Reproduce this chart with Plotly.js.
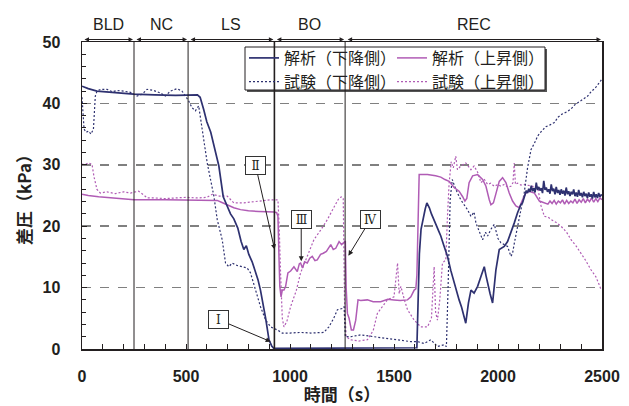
<!DOCTYPE html>
<html><head><meta charset="utf-8">
<script src="https://cdn.plot.ly/plotly-3.0.1.min.js"></script>
<style>html,body{margin:0;padding:0;background:#fff}</style>
</head><body><div id="chart" style="width:629px;height:406px"></div>
<script>
// ---- data ----
const phaseNames = ['BLD', 'NC', 'LS', 'BO', 'REC'];
const phaseBounds = [0, 250, 510, 925, 1265, 2500];

// 解析（下降側）
const tAnaDown = [0,30,72,150,248,350,450,555,568,585,600,619,640,658,679,700,714,730,749,765,778,790,802,818,834,846,858,870,883,899,912,922,940,1000,1100,1200,1300,1400,1500,1600,1610,1616,1622,1630,1640,1650,1658,1670,1680,1693,1705,1715,1725,1740,1757,1773,1789,1800,1813,1825,1835,1845,1858,1870,1885,1902,1918,1934,1942,1950,1962,1974,1982,1990,2006,2020,2030,2046,2062,2078,2094,2110,2118,
  2130,2136,2142,2148,2154,2160,2166,2172,2178,2184,2190,2196,2202,2208,2214,2220,2226,2232,2238,2244,2250,2256,2262,2268,2274,2280,2286,2292,2298,2304,2310,2316,2322,2328,2334,2340,2346,2352,2358,2364,2370,2376,2382,2388,2394,2400,2406,2412,2418,2424,2430,2436,2442,2448,2454,2460,2466,2472,2478,2484,2490,2496,2500];
const pAnaDown = [42.8,42.4,42.0,41.8,41.5,41.4,41.3,41.4,41.0,39.0,37.0,35.3,32.5,29.8,24.8,23.0,22.0,21.2,19.7,17.5,16.2,16.8,15.4,14.2,12.6,11.3,9.6,7.5,5.0,1.5,0.5,0.1,0.1,0.1,0.1,0.1,0.1,0.1,0.1,0.1,0.2,8.0,15.5,19.5,21.5,22.8,23.8,23.0,22.0,21.1,20.0,19.2,18.4,16.8,15.1,12.8,10.7,9.5,8.0,6.8,5.5,4.2,7.5,9.6,9.1,10.2,11.8,13.4,12.0,10.7,9.0,7.5,10.5,12.9,16.2,16.5,16.7,17.5,18.9,20.5,22.2,23.5,23.8,
  25.0,25.8,25.4,26.1,25.6,26.6,25.7,26.2,25.5,27.1,25.9,26.4,25.8,26.2,25.4,27.4,25.9,26.3,25.6,26.0,25.3,26.8,25.7,26.1,25.2,26.4,25.4,25.9,25.1,26.0,25.3,25.8,25.0,26.3,25.2,25.7,24.9,25.6,25.2,26.0,24.9,25.5,24.8,25.9,25.0,25.4,24.7,25.6,24.9,25.3,24.6,25.5,24.8,25.2,24.5,25.6,24.7,25.2,24.6,25.4,24.8,25.1,25.0];

// 試験（下降側）
const tExpDown = [0,5,10,20,32,43,55,64,72,90,120,145,168,200,233,265,289,313,345,377,401,425,457,481,497,513,529,545,561,577,602,634,650,674,690,706,722,746,770,794,810,834,858,883,907,939,963,1000,1051,1100,1163,1187,1210,1228,1252,1260,1266,1292,1340,1404,1468,1533,1581,1613,1645,1677,1709,1741,1752,1760,1770,1780,1797,1821,1853,1870,1885,1894,1910,1926,1940,1950,1966,1982,2000,2014,2030,2046,2062,2070,2080,2094,2110,2126,2142,2159,2175,2191,2210,2230,2250,2271,2290,2310,2330,2351,2370,2390,2410,2431,2450,2465,2480,2490,2500];
const pExpDown = [41.0,38.5,35.8,35.3,35.5,35.0,35.8,41.2,42.0,42.3,42.3,41.9,42.1,42.0,41.8,41.2,41.5,42.3,42.1,41.7,41.2,42.0,42.4,42.0,41.2,40.4,39.3,38.8,39.6,35.8,30.3,24.9,21.1,17.8,14.0,13.4,14.0,13.6,13.4,13.2,12.4,9.6,6.9,4.7,3.6,3.1,2.6,2.6,2.7,2.6,2.7,3.6,5.0,6.4,6.6,6.9,2.0,2.0,2.3,2.0,1.7,1.5,1.2,1.2,0.9,1.5,0.4,0.7,0.4,10.0,24.3,27.6,26.0,24.3,22.7,21.6,22.3,20.5,19.0,17.8,19.0,18.4,19.5,20.3,18.0,17.3,17.0,16.7,15.1,15.6,17.5,20.0,22.7,25.4,29.5,32.5,33.5,34.7,35.5,36.2,36.5,36.9,37.8,38.3,38.6,39.1,39.8,40.2,40.7,41.2,42.0,42.4,43.0,43.5,44.0];

// 解析（上昇側）
const tAnaUp = [0,30,80,150,250,400,560,650,670,698,730,762,800,850,900,925,936,942,947,951,957,963,971,979,990,1003,1019,1035,1045,1051,1060,1070,1083,1095,1107,1120,1131,1147,1160,1175,1196,1208,1220,1236,1248,1260,1266,1270,1276,1284,1295,1305,1316,1327,1340,1372,1400,1436,1470,1500,1530,1565,1581,1597,1605,1610,1613,1616,1621,1661,1700,1725,1745,1765,1789,1813,1830,1841,1850,1861,1878,1902,1926,1942,1958,1966,1978,1990,2006,2022,2038,2054,2070,2086,2102,2118,2134,2150,2175,2199,2223,
  2240,2250,2260,2270,2280,2290,2300,2310,2320,2330,2340,2350,2360,2370,2380,2390,2400,2410,2420,2430,2440,2450,2460,2470,2480,2490,2500];
const pAnaUp = [25.2,25.0,24.8,24.6,24.3,24.3,24.3,24.2,23.9,23.5,23.0,22.7,22.5,22.4,22.4,22.3,22.2,21.6,15.0,10.2,8.5,9.6,9.6,10.2,12.4,12.7,13.4,12.6,13.9,14.0,13.2,14.2,14.0,14.8,15.1,14.4,14.5,15.4,15.6,15.9,17.0,16.2,16.4,17.5,17.0,17.3,17.6,10.0,5.8,5.0,3.1,3.1,4.7,8.0,7.9,8.0,7.7,7.7,8.1,8.0,7.9,8.0,8.5,9.6,9.8,12.0,15.1,21.0,28.4,28.4,28.2,28.0,27.6,27.3,26.3,25.7,24.8,24.1,24.5,27.1,28.2,28.4,27.6,26.5,24.3,23.5,23.8,25.4,27.3,27.9,27.1,25.4,24.1,23.3,23.0,24.3,25.4,25.7,25.4,24.1,23.8,
  23.6,24.1,23.7,24.2,23.6,24.1,23.8,24.3,23.6,24.2,23.7,24.1,23.8,24.4,23.7,24.3,23.9,24.5,23.8,24.4,24.0,24.6,23.9,24.5,24.0,24.6,24.3];

// 試験（上昇側）
const tExpUp = [0,15,30,48,58,72,88,120,160,200,233,272,300,313,350,400,450,500,553,600,626,660,698,730,778,843,906,942,948,955,963,971,985,1003,1030,1051,1080,1115,1150,1180,1210,1236,1250,1256,1262,1270,1292,1330,1372,1400,1420,1445,1468,1500,1510,1517,1525,1533,1550,1565,1597,1629,1661,1680,1693,1700,1709,1720,1733,1749,1757,1765,1775,1785,1797,1805,1821,1845,1870,1885,1902,1918,1935,1950,1965,1982,2000,2014,2030,2046,2062,2072,2078,2084,2094,2110,2126,2159,2191,2207,2215,2223,2240,2255,2280,2303,2330,2351,2375,2399,2420,2447,2470,2485,2496];
const pExpUp = [30.1,30.0,30.3,30.1,28.0,26.0,25.4,25.6,25.3,25.6,25.4,25.7,25.0,24.6,24.6,24.5,24.6,24.7,24.6,24.7,25.2,24.9,24.9,23.8,23.8,24.1,24.3,24.3,20.0,12.0,5.0,3.6,4.5,6.9,9.5,12.4,15.0,17.8,19.5,21.1,23.0,24.6,24.8,24.5,8.0,2.0,1.5,1.3,1.5,3.0,5.8,7.0,8.0,8.5,11.5,14.0,9.0,10.2,8.0,6.4,4.7,3.6,3.6,5.0,13.4,6.0,4.7,8.0,14.0,14.5,21.6,27.0,30.5,29.5,31.4,29.2,29.8,30.3,29.2,29.8,28.8,27.1,27.6,26.8,27.0,26.5,26.8,26.5,26.8,26.4,26.5,27.1,30.3,26.8,27.0,26.7,26.8,26.5,26.3,23.3,22.5,21.6,21.5,21.1,20.6,20.0,19.0,17.8,16.8,15.6,14.5,12.9,11.8,10.6,9.6];

const legendNames = ['解析（下降側）', '試験（下降側）', '解析（上昇側）', '試験（上昇側）'];
const xTitle = '時間（s）';
const yTitle = '差圧（kPa）';

// ---- styling ----
const NAVY = '#2e3170', MAG = '#b05cb5', INK = '#231f20';
const W = 629, H = 406, ML = 82, MR = 27, MT = 42, MB = 57;
const PW = W - ML - MR, PH = H - MT - MB;
const px2x = p => (p - ML) / PW;
const py2y = p => (H - MB - p) / PH;
const CJK = 'Noto Sans CJK JP, sans-serif';
const LAT = 'Liberation Sans, Arial, sans-serif';

const traces = [
  {x: tExpUp, y: pExpUp, name: legendNames[3], mode: 'lines', line: {color: MAG, width: 1.2, dash: '2px,2px'}, legend: 'legend2', legendrank: 2},
  {x: tExpDown, y: pExpDown, name: legendNames[1], mode: 'lines', line: {color: NAVY, width: 1.2, dash: '2px,2px'}, legend: 'legend', legendrank: 2},
  {x: tAnaUp, y: pAnaUp, name: legendNames[2], mode: 'lines', line: {color: MAG, width: 1.5}, legend: 'legend2', legendrank: 1},
  {x: tAnaDown, y: pAnaDown, name: legendNames[0], mode: 'lines', line: {color: NAVY, width: 1.7}, legend: 'legend', legendrank: 1}
];

const shapes = [];
// legend frame (shadow + box)
shapes.push({type: 'rect', xref: 'paper', yref: 'paper', x0: px2x(247), x1: px2x(547), y0: py2y(92), y1: py2y(49), fillcolor: '#555', line: {width: 0}, layer: 'above'});
shapes.push({type: 'rect', xref: 'paper', yref: 'paper', x0: px2x(245), x1: px2x(545), y0: py2y(90), y1: py2y(47), fillcolor: '#fff', line: {color: INK, width: 1}, layer: 'above'});
// phase boundaries
for (let i = 1; i < phaseBounds.length - 1; i++) {
  shapes.push({type: 'line', xref: 'x', yref: 'paper', x0: phaseBounds[i], x1: phaseBounds[i], y0: 0, y1: 1, line: {color: INK, width: i === 3 ? 1.6 : 1}, layer: 'above'});
}

const annotations = [];
for (let i = 0; i < phaseNames.length; i++) {
  const a = phaseBounds[i], b = phaseBounds[i + 1];
  annotations.push({x: b, y: py2y(39.5), xref: 'x', yref: 'paper', ax: a, ay: 0, axref: 'x', ayref: 'pixel', text: '', showarrow: true, arrowside: 'end+start', arrowhead: 2, arrowsize: 0.9, arrowwidth: 1, arrowcolor: INK, standoff: 1, startstandoff: 1});
  annotations.push({x: (a + b) / 2, y: py2y(25), xref: 'x', yref: 'paper', xanchor: 'center', yanchor: 'middle', text: phaseNames[i], showarrow: false, font: {family: LAT, size: 16, color: INK}});
}
const boxes = [
  {x: 907, y: 1.2, ax: -52, ay: -22, text: 'Ⅰ'},
  {x: 926, y: 16.2, ax: -19, ay: -84, text: 'Ⅱ'},
  {x: 1054, y: 14.3, ax: 0, ay: -42, text: 'Ⅲ'},
  {x: 1281, y: 15.2, ax: 22, ay: -36, text: 'Ⅳ'}
];
boxes.forEach(b => annotations.push({
  x: b.x, y: b.y, xref: 'x', yref: 'y', ax: b.ax, ay: b.ay, text: b.text, showarrow: true,
  arrowhead: 2, arrowsize: 1, arrowwidth: 1, arrowcolor: INK,
  bgcolor: '#fff', bordercolor: '#333', borderwidth: 1, borderpad: 2, width: 15, height: 13,
  font: {family: 'DejaVu Serif, Liberation Serif, serif', size: 12, color: INK}
}));

const legendFont = {family: CJK, size: 16, color: INK};
const layout = {
  width: W, height: H,
  margin: {l: ML, r: MR, t: MT, b: MB},
  paper_bgcolor: '#fff', plot_bgcolor: '#fff',
  showlegend: true,
  legend: {x: px2x(244), y: py2y(41), xanchor: 'left', yanchor: 'top', orientation: 'v', bgcolor: 'rgba(0,0,0,0)', borderwidth: 0, font: legendFont, tracegroupgap: 0},
  legend2: {x: px2x(392), y: py2y(41), xanchor: 'left', yanchor: 'top', orientation: 'v', bgcolor: 'rgba(0,0,0,0)', borderwidth: 0, font: legendFont, tracegroupgap: 0},
  xaxis: {
    range: [0, 2500], tick0: 0, dtick: 500, ticks: 'inside', ticklen: 5, tickwidth: 1, tickcolor: INK,
    minor: {dtick: 100, ticks: 'inside', ticklen: 5, tickwidth: 1, tickcolor: INK, showgrid: false},
    showline: true, mirror: true, linecolor: INK, linewidth: 1.5, showgrid: false, zeroline: false,
    ticklabelstandoff: 12,
    tickfont: {family: LAT, size: 16, weight: 'bold', color: INK},
    title: {text: xTitle, font: {family: CJK, size: 17, weight: 'bold', color: INK}, standoff: 4}
  },
  yaxis: {
    range: [0, 50], tick0: 0, dtick: 10, ticks: 'inside', ticklen: 5, tickwidth: 1, tickcolor: INK,
    minor: {dtick: 2, ticks: 'inside', ticklen: 4, tickwidth: 1, tickcolor: INK, showgrid: false},
    showline: true, mirror: true, linecolor: INK, linewidth: 1.5, zeroline: false,
    showgrid: true, gridcolor: '#808080', gridwidth: 1.5, griddash: 'dash',
    ticklabelstandoff: 17,
    tickfont: {family: LAT, size: 16, weight: 'bold', color: INK},
    title: {text: yTitle, font: {family: CJK, size: 17, weight: 'bold', color: INK}, standoff: 6}
  },
  shapes: shapes,
  annotations: annotations
};

Plotly.newPlot('chart', traces, layout, {displayModeBar: false, staticPlot: true});
</script></body></html>
